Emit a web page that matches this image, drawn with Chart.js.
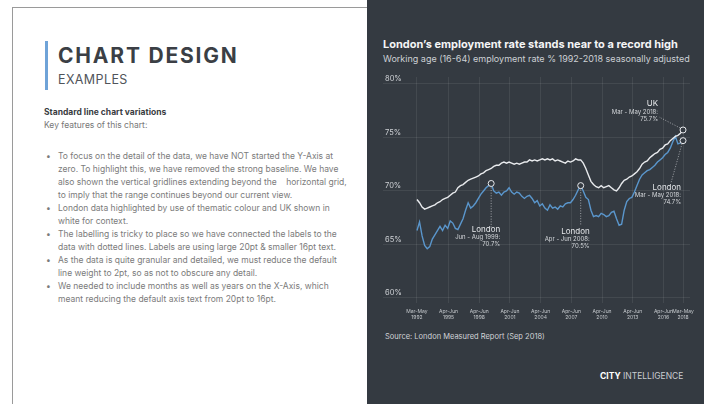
<!DOCTYPE html>
<html>
<head>
<meta charset="utf-8">
<script src="https://cdn.jsdelivr.net/npm/chart.js@4.4.1/dist/chart.umd.min.js"></script>
<style>
  html, body { margin: 0; padding: 0; width: 704px; height: 404px; overflow: hidden; background: #fff; font-family: Inter, "Noto Sans", sans-serif; }
  #card { position: absolute; left: 12px; top: 7px; width: 420px; height: 440px; border: 1px solid #9a9a9a; box-sizing: border-box; }
  #accent { position: absolute; left: 45px; top: 41px; width: 3px; height: 49px; background: #6fa3d8; }
  .t { position: absolute; white-space: nowrap; }
  #h1 { left: 58px; top: 45px; font-size: 21px; line-height: 21px; font-weight: 700; letter-spacing: 1.8px; color: #3b3f45; }
  #h2 { left: 58px; top: 73px; font-size: 12.5px; line-height: 13px; color: #50545a; letter-spacing: 0.4px; }
  #sub { left: 44px; top: 107px; font-size: 8.5px; line-height: 10px; font-weight: 700; color: #3a3d42; }
  #key { left: 44px; top: 120px; font-size: 8.5px; line-height: 10px; color: #777; }
  #notes { position: absolute; left: 44px; top: 150px; margin: 0; padding: 0; list-style: none; font-size: 8.5px; line-height: 13px; color: #7b7b7b; }
  #notes li { position: relative; padding-left: 14px; white-space: nowrap; }
  #notes li::before { content: "\2022"; position: absolute; left: 2px; top: 0; }
  #panel { position: absolute; left: 367px; top: 0; width: 337px; height: 404px; background: #343a41; }
  #title { left: 16px; top: 38px; font-size: 11px; line-height: 13px; font-weight: 700; color: #f4f5f6; }
  #subtitle { left: 16px; top: 53px; font-size: 9px; line-height: 11px; color: #cdd1d5; }
  #source { left: 18px; top: 332px; font-size: 7.5px; line-height: 9px; color: #d0d3d7; }
  #brand { left: 233px; top: 371px; font-size: 8.5px; line-height: 10px; color: #c9cdd1; }
  #brand b { color: #fff; }
  #chart { position: absolute; left: 0; top: 60px; }
</style>
</head>
<body>
<div id="card"></div>
<div id="accent"></div>
<div class="t" id="h1">CHART DESIGN</div>
<div class="t" id="h2">EXAMPLES</div>
<div class="t" id="sub">Standard line chart variations</div>
<div class="t" id="key">Key features of this chart:</div>
<ul id="notes">
  <li>To focus on the detail of the data, we have NOT started the Y-Axis at<br>zero. To highlight this, we have removed the strong baseline. We have<br>also shown the vertical gridlines extending beyond the &nbsp;&nbsp; horizontal grid,<br>to imply that the range continues beyond our current view.</li>
  <li>London data highlighted by use of thematic colour and UK shown in<br>white for context.</li>
  <li>The labelling is tricky to place so we have connected the labels to the<br>data with dotted lines. Labels are using large 20pt &amp; smaller 16pt text.</li>
  <li>As the data is quite granular and detailed, we must reduce the default<br>line weight to 2pt, so as not to obscure any detail.</li>
  <li>We needed to include months as well as years on the X-Axis, which<br>meant reducing the default axis text from 20pt to 16pt.</li>
</ul>

<div id="panel">
  <div class="t" id="title">London’s employment rate stands near to a record high</div>
  <div class="t" id="subtitle">Working age (16-64) employment rate % 1992-2018 seasonally adjusted</div>
  <canvas id="chart" width="337" height="270"></canvas>
  <div class="t" id="source">Source: London Measured Report (Sep 2018)</div>
  <div class="t" id="brand"><b>CITY</b> INTELLIGENCE</div>
</div>

<script>
// Employment rate (%), one value per three-month period starting Mar-May 1992
const firstPeriod = 1992.25;
const periodStep = 0.25;

const uk = [
  69.2, 68.9, 68.5, 68.3, 68.4, 68.5, 68.6, 68.7, 68.9, 69.0, 69.2, 69.3,
  69.4, 69.6, 69.8, 69.9, 70.3, 70.5, 70.6, 70.8, 71.0, 71.1, 71.2, 71.3,
  71.4, 71.6, 71.7, 71.9, 72.0, 72.1, 72.3, 72.4, 72.4, 72.6, 72.7, 72.6,
  72.7, 72.6, 72.5, 72.6, 72.5, 72.6, 72.7, 72.7, 72.9, 72.8, 72.9, 72.8,
  72.9, 73.0, 72.9, 73.0, 72.9, 73.0, 72.8, 72.9, 72.8, 72.7, 72.6, 72.8,
  72.7, 72.8, 73.0, 72.9, 72.9, 72.6, 72.1, 71.5, 70.9, 70.6, 70.4, 70.3,
  70.5, 70.3, 70.4, 70.5, 70.3, 70.1, 70.0, 70.3, 70.7, 71.0, 71.1, 71.3,
  71.4, 71.6, 71.8, 72.1, 72.5, 72.7, 72.8, 73.1, 73.3, 73.5, 73.6, 73.9,
  74.0, 74.3, 74.4, 74.7, 74.9, 75.1, 75.2, 75.4, 75.7
];

const london = [
  66.3, 67.1, 65.8, 64.9, 64.6, 64.8, 65.5, 65.9, 66.3, 66.7, 66.3, 66.8,
  66.5, 67.2, 67.0, 66.5, 66.4, 66.9, 67.4, 68.2, 68.9, 68.4, 68.6, 68.9,
  69.3, 69.7, 70.0, 70.3, 70.5, 70.7, 70.0, 69.8, 69.9, 69.6, 69.9, 70.0,
  70.3, 69.9, 69.7, 69.9, 69.8, 69.5, 69.3, 69.5, 69.6, 69.3, 68.9, 69.1,
  68.6, 68.8, 68.4, 68.2, 68.7, 68.4, 68.5, 68.3, 68.6, 68.5, 68.8, 68.9,
  68.9, 69.2, 69.6, 70.1, 70.5, 70.0, 69.4, 69.2, 68.2, 67.6, 67.7, 67.6,
  67.9, 67.8, 67.6, 67.7, 68.0, 68.1, 67.4, 66.8, 66.9, 68.2, 69.0, 69.3,
  69.4, 69.9, 70.5, 71.1, 71.5, 71.7, 71.9, 72.0, 72.2, 72.4, 72.7, 72.9,
  73.1, 73.4, 73.6, 74.0, 74.6, 75.1, 74.4, 74.5, 74.7
];

// x-axis ticks: period centre (decimal year) and two-line label
const tickValues = [1992.25, 1995.333, 1998.333, 2001.333, 2004.333, 2007.333, 2010.333, 2013.333, 2016.333, 2018.25];
const tickPeriods = ['Mar-May', 'Apr-Jun', 'Apr-Jun', 'Apr-Jun', 'Apr-Jun', 'Apr-Jun', 'Apr-Jun', 'Apr-Jun', 'Apr-Jun', 'Mar-May'];
const tickYears = ['1992', '1995', '1998', '2001', '2004', '2007', '2010', '2013', '2016', '2018'];
const yTicks = [60, 65, 70, 75, 80];

const toPoints = arr => arr.map((v, i) => ({ x: firstPeriod + i * periodStep, y: v }));

// labelled points: dataset, index, name, period text, label offset and leader line
const callouts = [
  { ds: 1, idx: 29, name: 'London', period: 'Jun - Aug 1999:', tx: 9, ty: 46, lead: [[0, 4], [0, 44]] },
  { ds: 1, idx: 64, name: 'London', period: 'Apr - Jun 2008:', tx: 9, ty: 46, lead: [[0, 4], [0, 40]] },
  { ds: 0, idx: 104, name: 'UK', period: 'Mar - May 2018:', tx: -25, ty: -26, lead: [[-3, -2], [-24, -13]] },
  { ds: 1, idx: 104, name: 'London', period: 'Mar - May 2018:', tx: -2, ty: 47, lead: [[-1, 3], [-12, 42]] }
];

const marked = ds => ctx => callouts.some(c => c.ds === ds && c.idx === ctx.dataIndex) ? 3 : 0;

const calloutPlugin = {
  id: 'callouts',
  afterDatasetsDraw(chart) {
    const ctx = chart.ctx;
    ctx.save();
    callouts.forEach(c => {
      const pt = chart.getDatasetMeta(c.ds).data[c.idx];
      const value = chart.data.datasets[c.ds].data[c.idx].y;
      ctx.strokeStyle = 'rgba(235,237,240,0.75)';
      ctx.lineWidth = 0.8;
      ctx.setLineDash([1, 1.6]);
      ctx.beginPath();
      ctx.moveTo(pt.x + c.lead[0][0], pt.y + c.lead[0][1]);
      ctx.lineTo(pt.x + c.lead[1][0], pt.y + c.lead[1][1]);
      ctx.stroke();
      ctx.setLineDash([]);
      ctx.textAlign = 'right';
      ctx.textBaseline = 'middle';
      const x = pt.x + c.tx;
      const y = pt.y + c.ty;
      ctx.fillStyle = '#e6e8eb';
      ctx.font = '8px Inter, sans-serif';
      ctx.fillText(c.name, x, y);
      ctx.fillStyle = '#d3d6da';
      ctx.font = '6px Inter, sans-serif';
      ctx.fillText(c.period, x, y + 8);
      ctx.fillText(value.toFixed(1) + '%', x, y + 15);
    });
    ctx.restore();
  }
};

const gridColor = 'rgba(255,255,255,0.08)';

new Chart(document.getElementById('chart'), {
  type: 'line',
  data: {
    datasets: [
      { label: 'UK', data: toPoints(uk), borderColor: '#e8eaed', borderWidth: 1.4,
        pointRadius: marked(0), pointBorderColor: '#e8eaed', pointBackgroundColor: '#343a41', pointBorderWidth: 1 },
      { label: 'London', data: toPoints(london), borderColor: '#5a96cc', borderWidth: 1.4,
        pointRadius: marked(1), pointBorderColor: '#e8eaed', pointBackgroundColor: '#343a41', pointBorderWidth: 1 }
    ]
  },
  options: {
    responsive: false,
    devicePixelRatio: 1,
    animation: false,
    layout: { padding: { left: 16, right: 14, top: 17, bottom: 0 } },
    plugins: { legend: { display: false }, tooltip: { enabled: false } },
    elements: { line: { tension: 0 } },
    scales: {
      x: {
        type: 'linear',
        min: 1988.93,
        max: 2018.93,
        afterBuildTicks: s => { s.ticks = tickValues.map(v => ({ value: v })); },
        afterFit: s => { s.height = 27; },
        grid: { color: gridColor, drawTicks: false },
        border: { display: false },
        ticks: {
          autoSkip: false, maxRotation: 0, padding: 5,
          color: '#c4c8cc', font: { size: 5, family: 'Inter' },
          callback: (v, i) => [tickPeriods[i], tickYears[i]]
        }
      },
      y: {
        min: 59.53,
        max: 80.65,
        afterBuildTicks: s => { s.ticks = yTicks.map(v => ({ value: v })); },
        afterFit: s => { s.width = 0; },
        grid: { color: gridColor, drawTicks: false },
        border: { display: false },
        ticks: {
          mirror: true, padding: 2, labelOffset: -5,
          color: '#d0d3d7', font: { size: 7.5, family: 'Inter' },
          callback: v => v + '%'
        }
      }
    }
  },
  plugins: [calloutPlugin]
});
</script>
</body>
</html>
